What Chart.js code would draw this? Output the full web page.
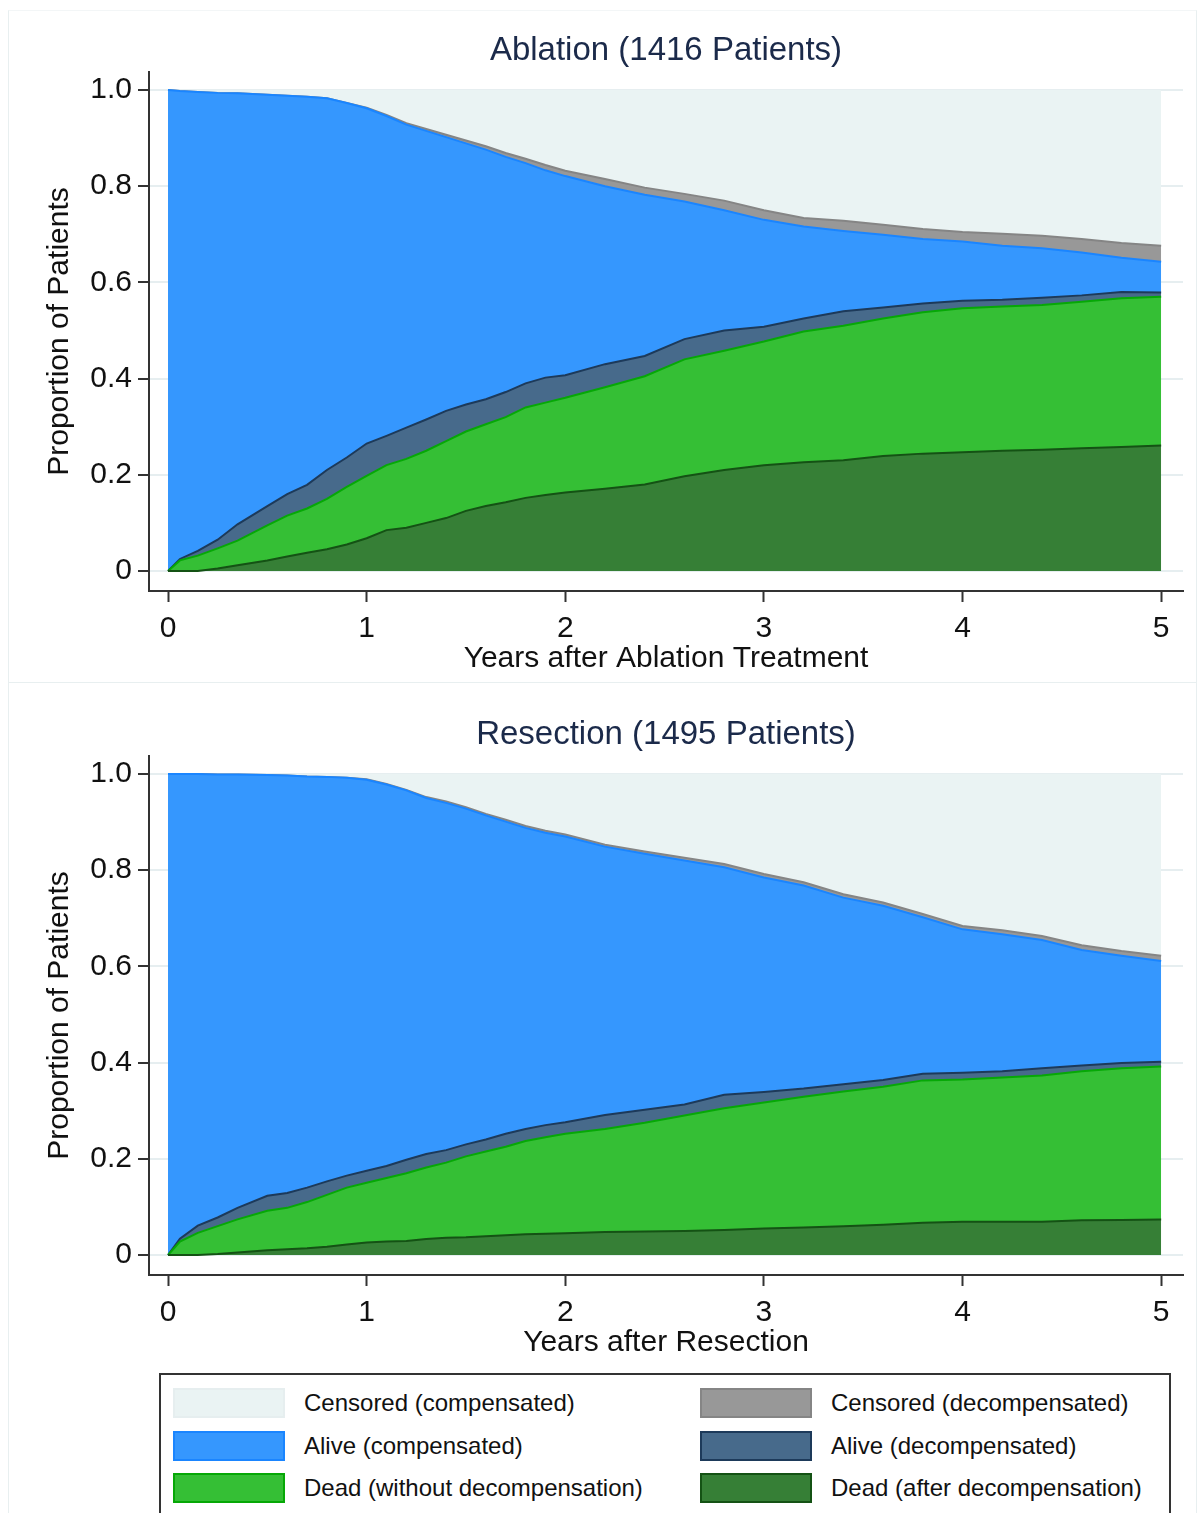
<!DOCTYPE html>
<html>
<head>
<meta charset="utf-8">
<script src="https://cdn.jsdelivr.net/npm/chart.js@4"></script>
<style>
  html, body { margin: 0; padding: 0; background: #ffffff; }
  body { width: 1198px; height: 1513px; position: relative; overflow: hidden; font-family: "Liberation Sans", Arial, sans-serif; }
  canvas { position: absolute; left: 0; }
  .panel { position: absolute; box-sizing: border-box; border: 1px solid #e8eff0; }
  #legend { position: absolute; left: 159px; top: 1373px; width: 1012px; height: 160px; box-sizing: border-box;
            border: 2px solid #333333; border-bottom: none; }
  .item { position: absolute; height: 30px; display: flex; align-items: center; }
  .sw { width: 108px; height: 26px; border: 2px solid; margin-right: 19px; }
  .lab { font-size: 24px; color: #111111; white-space: nowrap; }
</style>
</head>
<body>
<div class="panel" style="left:8px; top:10px; width:1189px; height:673px; border-top-color:#f3f6f7;"></div>
<div class="panel" style="left:8px; top:682px; width:1189px; height:840px;"></div>
<canvas id="top" width="1198" height="682" style="top:0px"></canvas>
<canvas id="bottom" width="1198" height="688" style="top:682px"></canvas>
<div id="legend"></div>
<script>
// ---------------- DATA (cumulative stacked tops) ----------------
const years = [0, 0.06, 0.15, 0.25, 0.35, 0.5, 0.6, 0.7, 0.8, 0.9, 1.0, 1.1, 1.2, 1.3, 1.4, 1.5, 1.6, 1.7, 1.8, 1.9, 2.0, 2.2, 2.4, 2.6, 2.8, 3.0, 3.2, 3.4, 3.6, 3.8, 4.0, 4.2, 4.4, 4.6, 4.8, 5.0];

const seriesNames = ["Dead (after decompensation)", "Dead (without decompensation)", "Alive (decompensated)", "Alive (compensated)", "Censored (decompensated)", "Censored (compensated)"];

// Ablation (1416 Patients)
const ablDeadAfter      = [0, 0, 0, 0.005, 0.012, 0.022, 0.03, 0.038, 0.045, 0.055, 0.068, 0.085, 0.09, 0.1, 0.11, 0.125, 0.135, 0.143, 0.152, 0.158, 0.163, 0.171, 0.18, 0.197, 0.21, 0.22, 0.226, 0.23, 0.239, 0.244, 0.247, 0.25, 0.252, 0.255, 0.258, 0.261];
const ablDeadWithout    = [0, 0.022, 0.032, 0.047, 0.063, 0.095, 0.115, 0.13, 0.15, 0.175, 0.198, 0.22, 0.233, 0.25, 0.27, 0.29, 0.305, 0.32, 0.34, 0.35, 0.36, 0.382, 0.405, 0.44, 0.458, 0.477, 0.498, 0.51, 0.525, 0.538, 0.546, 0.55, 0.553, 0.56, 0.567, 0.57];
const ablAliveDecomp    = [0, 0.025, 0.042, 0.065, 0.097, 0.135, 0.16, 0.179, 0.21, 0.236, 0.265, 0.281, 0.298, 0.315, 0.333, 0.346, 0.357, 0.372, 0.39, 0.402, 0.407, 0.43, 0.447, 0.482, 0.5, 0.508, 0.525, 0.54, 0.548, 0.556, 0.562, 0.564, 0.568, 0.573, 0.58, 0.579];
const ablAliveComp      = [1.0, 0.998, 0.996, 0.994, 0.993, 0.99, 0.988, 0.986, 0.983, 0.973, 0.962, 0.946, 0.928, 0.915, 0.902, 0.889, 0.876, 0.861, 0.848, 0.833, 0.821, 0.8, 0.782, 0.768, 0.75, 0.73, 0.716, 0.707, 0.699, 0.69, 0.685, 0.676, 0.671, 0.662, 0.651, 0.643];
const ablCensoredDecomp = [1.0, 0.998, 0.996, 0.994, 0.993, 0.99, 0.988, 0.986, 0.983, 0.973, 0.963, 0.948, 0.931, 0.919, 0.907, 0.895, 0.883, 0.869, 0.857, 0.844, 0.832, 0.815, 0.797, 0.784, 0.77, 0.75, 0.734, 0.728, 0.72, 0.711, 0.705, 0.701, 0.697, 0.69, 0.682, 0.676];
const ablCensoredComp   = [1, 1, 1, 1, 1, 1, 1, 1, 1, 1, 1, 1, 1, 1, 1, 1, 1, 1, 1, 1, 1, 1, 1, 1, 1, 1, 1, 1, 1, 1, 1, 1, 1, 1, 1, 1];

// Resection (1495 Patients)
const resDeadAfter      = [0, 0, 0, 0.002, 0.005, 0.01, 0.012, 0.014, 0.017, 0.022, 0.026, 0.028, 0.029, 0.033, 0.036, 0.037, 0.039, 0.041, 0.043, 0.044, 0.045, 0.048, 0.049, 0.05, 0.052, 0.055, 0.057, 0.06, 0.063, 0.067, 0.069, 0.069, 0.069, 0.072, 0.073, 0.074];
const resDeadWithout    = [0, 0.028, 0.046, 0.06, 0.074, 0.092, 0.098, 0.11, 0.125, 0.14, 0.15, 0.16, 0.17, 0.182, 0.192, 0.205, 0.215, 0.225, 0.237, 0.245, 0.252, 0.262, 0.275, 0.29, 0.305, 0.317, 0.329, 0.34, 0.35, 0.363, 0.365, 0.369, 0.373, 0.382, 0.388, 0.392];
const resAliveDecomp    = [0, 0.034, 0.061, 0.078, 0.098, 0.123, 0.129, 0.14, 0.153, 0.165, 0.175, 0.185, 0.198, 0.21, 0.218, 0.23, 0.24, 0.252, 0.262, 0.27, 0.276, 0.291, 0.302, 0.313, 0.333, 0.339, 0.346, 0.355, 0.364, 0.377, 0.379, 0.382, 0.388, 0.394, 0.399, 0.402];
const resAliveComp      = [1.0, 1.0, 1.0, 0.999, 0.999, 0.998, 0.997, 0.995, 0.994, 0.992, 0.988, 0.978, 0.966, 0.95, 0.94, 0.928, 0.914, 0.901, 0.888, 0.878, 0.87, 0.849, 0.834, 0.82, 0.806, 0.785, 0.768, 0.743, 0.726, 0.702, 0.677, 0.667, 0.655, 0.634, 0.622, 0.611];
const resCensoredDecomp = [1.0, 1.0, 1.0, 0.999, 0.999, 0.998, 0.997, 0.995, 0.994, 0.992, 0.989, 0.979, 0.967, 0.952, 0.943, 0.931, 0.917, 0.905, 0.892, 0.882, 0.874, 0.853, 0.839, 0.826, 0.813, 0.792, 0.775, 0.75, 0.733, 0.709, 0.684, 0.675, 0.663, 0.644, 0.632, 0.622];
const resCensoredComp   = [1, 1, 1, 1, 1, 1, 1, 1, 1, 1, 1, 1, 1, 1, 1, 1, 1, 1, 1, 1, 1, 1, 1, 1, 1, 1, 1, 1, 1, 1, 1, 1, 1, 1, 1, 1];

const xTicks = [0, 1, 2, 3, 4, 5];
const xTickLabels = ["0", "1", "2", "3", "4", "5"];
const yTicks = [0, 0.2, 0.4, 0.6, 0.8, 1.0];
const yTickLabels = ["0", "0.2", "0.4", "0.6", "0.8", "1.0"];

// ---------------- STYLE ----------------
const fills   = ["#367f36", "#35bf35", "#476a8b", "#3597fe", "#989898", "#eaf3f3"];
const borders = ["#145214", "#06a806", "#1d3a5a", "#1a85ff", "#858585", "#eaf3f3"];
const FONT = "'Liberation Sans', Arial, sans-serif";

function buildChart(id, titleText, xTitleText, series, L) {
  const datasets = series.map((arr, i) => ({
    label: seriesNames[i],
    data: years.map((t, k) => ({ x: t, y: arr[k] })),
    backgroundColor: fills[i],
    borderColor: borders[i],
    borderWidth: i === 5 ? 0 : 2,
    pointRadius: 0,
    tension: 0,
    fill: i === 0 ? 'origin' : '-1'
  }));
  return new Chart(document.getElementById(id), {
    type: 'line',
    data: { datasets },
    options: {
      responsive: false,
      animation: false,
      devicePixelRatio: 1,
      layout: { padding: { left: 0, right: 15, top: 0, bottom: 0 } },
      plugins: {
        legend: { display: false },
        tooltip: { enabled: false },
        title: {
          display: true, text: titleText, fullSize: false,
          color: '#1b2a4a',
          font: { family: FONT, size: 33, weight: 'normal', lineHeight: 1 },
          padding: { top: L.titleTop, bottom: L.titleBottom }
        }
      },
      scales: {
        x: {
          type: 'linear', min: -0.0957, max: 5.11,
          afterBuildTicks: s => { s.ticks = xTicks.map(v => ({ value: v })); },
          afterFit: s => { s.height = L.xHeight; },
          ticks: { color: '#111', font: { family: FONT, size: 30 }, padding: 9,
                   callback: (v) => xTickLabels[xTicks.indexOf(v)] },
          grid: { drawOnChartArea: false, drawTicks: true, tickLength: 11, tickColor: '#333', tickWidth: 2 },
          border: { display: true, color: '#333', width: 2 },
          title: { display: true, text: xTitleText, color: '#111',
                   font: { family: FONT, size: 30, lineHeight: 1 }, padding: { top: 0, bottom: L.xTitleBottom } }
        },
        y: {
          type: 'linear', min: -0.0416, max: 1.0374,
          afterBuildTicks: s => { s.ticks = yTicks.map(v => ({ value: v })); },
          afterFit: s => { s.width = 149; },
          ticks: { color: '#111', font: { family: FONT, size: 30 }, padding: 6,
                   callback: (v) => yTickLabels[yTicks.findIndex(t => Math.abs(t - v) < 1e-9)] },
          grid: { drawOnChartArea: true, color: '#e6eef0', lineWidth: 2, drawTicks: true, tickLength: 11, tickColor: '#333', tickWidth: 2 },
          border: { display: true, color: '#333', width: 2 },
          title: { display: true, text: 'Proportion of Patients', color: '#111',
                   font: { family: FONT, size: 30, lineHeight: 1 }, padding: { top: 45, bottom: 0 } }
        }
      }
    }
  });
}

buildChart('top', 'Ablation (1416 Patients)', 'Years after Ablation Treatment',
  [ablDeadAfter, ablDeadWithout, ablAliveDecomp, ablAliveComp, ablCensoredDecomp, ablCensoredComp],
  { titleTop: 34.5, titleBottom: 4.5, xHeight: 91, xTitleBottom: 8 });

buildChart('bottom', 'Resection (1495 Patients)', 'Years after Resection',
  [resDeadAfter, resDeadWithout, resAliveDecomp, resAliveComp, resCensoredDecomp, resCensoredComp],
  { titleTop: 36.5, titleBottom: 4.5, xHeight: 95, xTitleBottom: 12 });

// ---------------- LEGEND ----------------
const legendOrder = [5, 4, 3, 2, 1, 0]; // Censored(comp), Censored(decomp), Alive(comp), Alive(decomp), Dead(without), Dead(after)
const leg = document.getElementById('legend');
legendOrder.forEach((si, k) => {
  const col = k % 2, row = Math.floor(k / 2);
  const item = document.createElement('div');
  item.className = 'item';
  item.style.left = (col === 0 ? 12 : 539) + 'px';
  item.style.top = (13 + row * 42.5) + 'px';
  const sw = document.createElement('div');
  sw.className = 'sw';
  sw.style.background = fills[si];
  sw.style.borderColor = si === 5 ? '#e6eeef' : borders[si];
  const lab = document.createElement('span');
  lab.className = 'lab';
  lab.textContent = seriesNames[si];
  item.appendChild(sw); item.appendChild(lab);
  leg.appendChild(item);
});
</script>
</body>
</html>
